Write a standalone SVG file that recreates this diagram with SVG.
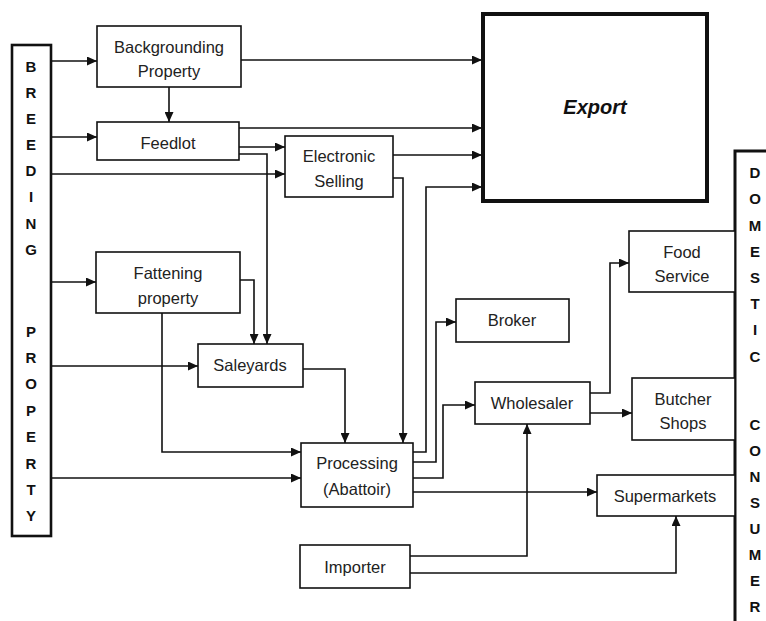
<svg xmlns="http://www.w3.org/2000/svg" width="766" height="621" viewBox="0 0 766 621">
<style>
.box{fill:#fff;stroke:#111;stroke-width:1.6}
.t{font-family:"Liberation Sans",Arial,sans-serif;font-size:16.5px;fill:#222;text-anchor:middle}
.v{font-family:"Liberation Sans",Arial,sans-serif;font-size:15px;font-weight:bold;fill:#111;text-anchor:middle}
.c{fill:none;stroke:#111;stroke-width:1.6}
</style>
<defs>
<marker id="ah" viewBox="0 0 10 9" refX="10" refY="4.5" markerWidth="10" markerHeight="9" markerUnits="userSpaceOnUse" orient="auto">
<path d="M0,0 L10,4.5 L0,9 Z" fill="#111"/>
</marker>
</defs>
<rect width="766" height="621" fill="#fff"/>
<g id="connectors">
<path class="c" marker-end="url(#ah)" d="M51,61 H97"/>
<path class="c" marker-end="url(#ah)" d="M51,137 H97"/>
<path class="c" marker-end="url(#ah)" d="M51,174 H285"/>
<path class="c" marker-end="url(#ah)" d="M51,282 H96"/>
<path class="c" marker-end="url(#ah)" d="M51,366 H198"/>
<path class="c" marker-end="url(#ah)" d="M51,478 H301"/>
<path class="c" marker-end="url(#ah)" d="M169,87 V122"/>
<path class="c" marker-end="url(#ah)" d="M241,60 H482"/>
<path class="c" marker-end="url(#ah)" d="M239,128 H482"/>
<path class="c" marker-end="url(#ah)" d="M239,147 H285"/>
<path class="c" marker-end="url(#ah)" d="M239,154 H267 V344"/>
<path class="c" marker-end="url(#ah)" d="M240,280 H254 V344"/>
<path class="c" marker-end="url(#ah)" d="M162,313 V452 H301"/>
<path class="c" marker-end="url(#ah)" d="M303,369 H345 V443"/>
<path class="c" marker-end="url(#ah)" d="M393,155 H482"/>
<path class="c" marker-end="url(#ah)" d="M393,178 H403 V443"/>
<path class="c" marker-end="url(#ah)" d="M413,452 H426 V187 H482"/>
<path class="c" marker-end="url(#ah)" d="M413,462 H436 V322 H456"/>
<path class="c" marker-end="url(#ah)" d="M413,478 H443 V405 H475"/>
<path class="c" marker-end="url(#ah)" d="M413,492 H597"/>
<path class="c" marker-end="url(#ah)" d="M590,393 H610 V263 H629"/>
<path class="c" marker-end="url(#ah)" d="M590,413 H632"/>
<path class="c" marker-end="url(#ah)" d="M410,556 H527 V424"/>
<path class="c" marker-end="url(#ah)" d="M410,573 H676 V516"/>
</g>
<g id="breeding">
<rect x="12" y="45" width="39" height="491" fill="#fff" stroke="#111" stroke-width="2.6"/>
<text class="v" x="31" y="72">B</text>
<text class="v" x="31" y="98">R</text>
<text class="v" x="31" y="124">E</text>
<text class="v" x="31" y="150">E</text>
<text class="v" x="31" y="176">D</text>
<text class="v" x="31" y="202">I</text>
<text class="v" x="31" y="229">N</text>
<text class="v" x="31" y="255">G</text>
<text class="v" x="31" y="337">P</text>
<text class="v" x="31" y="363">R</text>
<text class="v" x="31" y="389">O</text>
<text class="v" x="31" y="416">P</text>
<text class="v" x="31" y="442">E</text>
<text class="v" x="31" y="469">R</text>
<text class="v" x="31" y="495">T</text>
<text class="v" x="31" y="521">Y</text>
</g>
<g id="domestic">
<rect x="735" y="151" width="60" height="500" fill="#fff" stroke="#111" stroke-width="3"/>
<text class="v" x="755" y="178">D</text>
<text class="v" x="755" y="204">O</text>
<text class="v" x="755" y="231">M</text>
<text class="v" x="755" y="257">E</text>
<text class="v" x="755" y="283">S</text>
<text class="v" x="755" y="309">T</text>
<text class="v" x="755" y="335">I</text>
<text class="v" x="755" y="362">C</text>
<text class="v" x="755" y="430">C</text>
<text class="v" x="755" y="456">O</text>
<text class="v" x="755" y="482">N</text>
<text class="v" x="755" y="508">S</text>
<text class="v" x="755" y="534">U</text>
<text class="v" x="755" y="560">M</text>
<text class="v" x="755" y="586">E</text>
<text class="v" x="755" y="612">R</text>
</g>
<g id="export">
<rect x="483" y="14" width="224" height="187" fill="#fff" stroke="#111" stroke-width="4"/>
<text x="595" y="114" font-family="'Liberation Sans',Arial,sans-serif" font-size="20" font-weight="bold" font-style="italic" text-anchor="middle" fill="#111">Export</text>
</g>
<g id="backgrounding">
<rect class="box" x="97" y="26" width="144" height="61"/>
<text class="t" x="169" y="53">Backgrounding</text>
<text class="t" x="169" y="77">Property</text>
</g>
<g id="feedlot">
<rect class="box" x="97" y="122" width="142" height="38"/>
<text class="t" x="168" y="149">Feedlot</text>
</g>
<g id="electronic">
<rect class="box" x="285" y="136" width="108" height="61"/>
<text class="t" x="339" y="162">Electronic</text>
<text class="t" x="339" y="187">Selling</text>
</g>
<g id="fattening">
<rect class="box" x="96" y="252" width="144" height="61"/>
<text class="t" x="168" y="279">Fattening</text>
<text class="t" x="168" y="304">property</text>
</g>
<g id="saleyards">
<rect class="box" x="198" y="344" width="105" height="43"/>
<text class="t" x="250" y="371">Saleyards</text>
</g>
<g id="processing">
<rect class="box" x="301" y="443" width="112" height="64"/>
<text class="t" x="357" y="469">Processing</text>
<text class="t" x="357" y="495">(Abattoir)</text>
</g>
<g id="importer">
<rect class="box" x="300" y="545" width="110" height="43"/>
<text class="t" x="355" y="573">Importer</text>
</g>
<g id="broker">
<rect class="box" x="456" y="299" width="113" height="43"/>
<text class="t" x="512" y="326">Broker</text>
</g>
<g id="wholesaler">
<rect class="box" x="475" y="382" width="115" height="42"/>
<text class="t" x="532" y="409">Wholesaler</text>
</g>
<g id="foodservice">
<rect class="box" x="629" y="231" width="106" height="61"/>
<text class="t" x="682" y="258">Food</text>
<text class="t" x="682" y="282">Service</text>
</g>
<g id="butcher">
<rect class="box" x="632" y="378" width="103" height="62"/>
<text class="t" x="683" y="405">Butcher</text>
<text class="t" x="683" y="429">Shops</text>
</g>
<g id="supermarkets">
<rect class="box" x="597" y="475" width="138" height="41"/>
<text class="t" x="665" y="502">Supermarkets</text>
</g>
</svg>
